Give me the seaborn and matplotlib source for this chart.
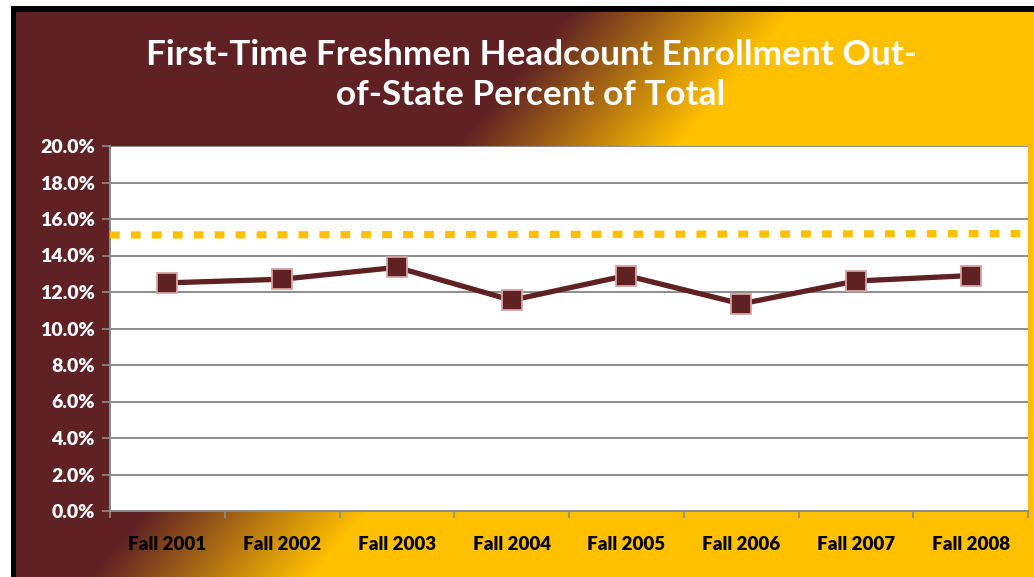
import numpy as np
import pandas as pd
import matplotlib
matplotlib.use("Agg")
import matplotlib.pyplot as plt
import seaborn as sns
from matplotlib.ticker import FuncFormatter, FixedLocator

# Data
terms = ['Fall 2001', 'Fall 2002', 'Fall 2003', 'Fall 2004',
         'Fall 2005', 'Fall 2006', 'Fall 2007', 'Fall 2008']
out_of_state_pct = [12.5, 12.7, 13.35, 11.55, 12.9, 11.35, 12.6, 12.9]
target_pct = [15.12, 15.2]   # dotted reference line, left end / right end

maroon = '#5F2124'
gold = '#FFC000'

sns.set_style('white')
plt.rcParams['font.family'] = ['Lato', 'DejaVu Sans']

W, H = 1034, 577
fig = plt.figure(figsize=(W / 100, H / 100), dpi=100)

# background: white margin, black frame line, diagonal maroon->gold gradient
bg = np.ones((H, W, 3))
bg[6:, 11:] = 0.0
yy, xx = np.mgrid[0:H, 0:W]
t = np.clip((xx + 0.85 * yy - 580) / 220.0, 0, 1)[..., None]
c0 = np.array(matplotlib.colors.to_rgb(maroon))
c1 = np.array(matplotlib.colors.to_rgb(gold))
grad = c0 * (1 - t) + c1 * t
bg[12:, 16:] = grad[12:, 16:]
fig.figimage(bg, xo=0, yo=0, origin='upper', zorder=-10)

ax = fig.add_axes([110 / W, (H - 511) / H, 918 / W, 365 / H])
ax.set_facecolor('white')

df = pd.DataFrame({'pos': np.arange(len(terms)), 'pct': out_of_state_pct})
sns.lineplot(data=df, x='pos', y='pct', ax=ax, color=maroon, linewidth=3.8,
             marker='s', markersize=14, markerfacecolor=maroon,
             markeredgecolor='#D9A3A3', markeredgewidth=1.3, zorder=5)

# dotted reference line across the whole plot width
x0, x1 = -0.5, len(terms) - 0.5
ax.plot([x0, x1], target_pct, color=gold, linewidth=5.2,
        linestyle=(0, (1.35, 1.55)), solid_capstyle='butt',
        dash_capstyle='butt', zorder=4)

ax.set_xlim(x0, x1)
ax.set_ylim(0, 20)
ax.set_yticks(np.arange(0, 20.1, 2))
ax.yaxis.set_major_formatter(FuncFormatter(lambda v, p: f'{v:.1f}%'))
ax.grid(axis='y', color='#8C8C8C', linewidth=1.4)
ax.set_axisbelow(True)

# x ticks at category boundaries, labels at centers
ax.xaxis.set_major_locator(FixedLocator(np.arange(len(terms) + 1) - 0.5))
ax.xaxis.set_major_formatter(FuncFormatter(lambda v, p: ''))
ax.xaxis.set_minor_locator(FixedLocator(np.arange(len(terms))))
ax.set_xticklabels(terms, minor=True)
ax.tick_params(axis='x', which='major', length=5, width=1.2, color='#8C8C8C',
               direction='out', bottom=True)
ax.tick_params(axis='x', which='minor', length=0, pad=18, labelsize=13.5,
               labelcolor='black')
ax.tick_params(axis='y', length=6, width=1.2, color='#8C8C8C', direction='out',
               left=True, labelsize=14, labelcolor='white', pad=5)
for lab in ax.get_xticklabels(minor=True) + ax.get_yticklabels():
    lab.set_fontweight('heavy')

for side in ['top', 'right']:
    ax.spines[side].set_visible(False)
for side in ['left', 'bottom']:
    ax.spines[side].set_color('#8C8C8C')
    ax.spines[side].set_linewidth(1.4)
ax.set_xlabel('')
ax.set_ylabel('')

fig.text(531 / W, 1 - 75 / H,
         'First-Time Freshmen Headcount Enrollment Out-\nof-State Percent of Total',
         ha='center', va='center', color='white', fontsize=25.3,
         fontweight='bold', linespacing=1.3)

fig.savefig('out.png', dpi=100)
